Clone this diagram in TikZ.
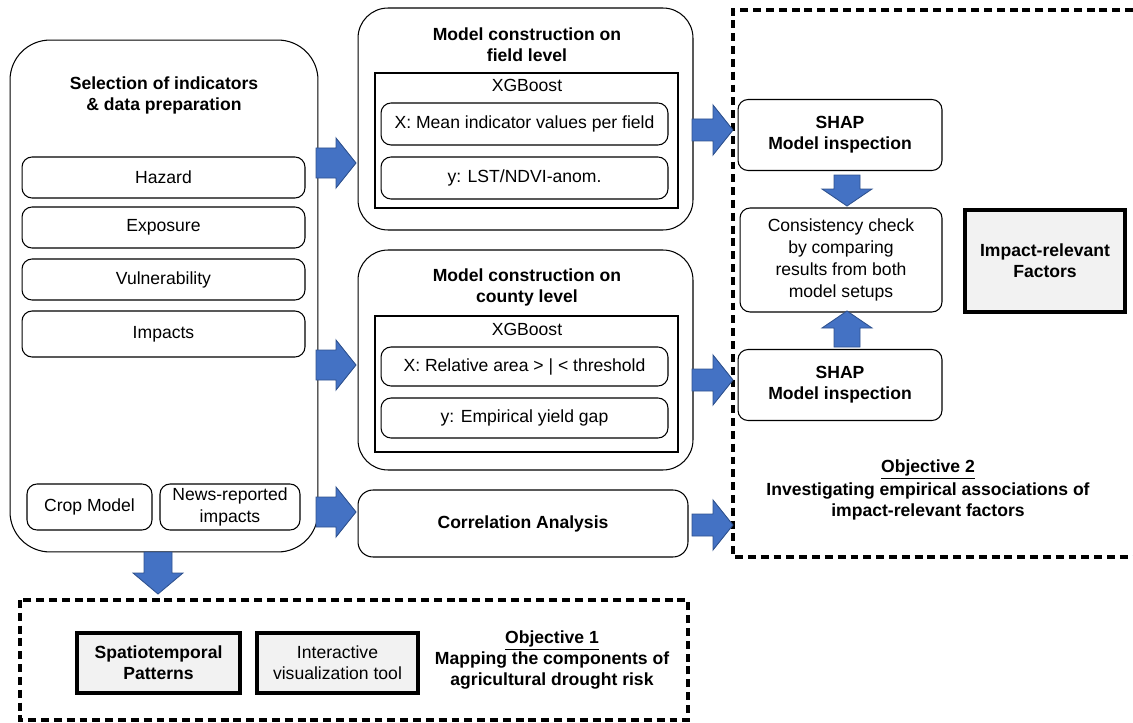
\documentclass[tikz,border=0pt]{standalone}
\usepackage{fontspec}
\setmainfont{Liberation Sans}
\usetikzlibrary{positioning}
\definecolor{arrowblue}{HTML}{4472C4}
\definecolor{arrowedge}{HTML}{2F528F}
\definecolor{boxgray}{HTML}{F2F2F2}
\tikzstyle{bigbox}=[draw,line width=0.6pt,rounded corners=0.8cm,inner sep=0pt]
\tikzstyle{midbox}=[draw,line width=0.6pt,rounded corners=0.6cm,inner sep=0pt]
\tikzstyle{smallbox}=[draw,line width=0.6pt,rounded corners=0.2cm,align=center,inner sep=1pt]
\tikzstyle{modelrect}=[draw,line width=1.5pt,inner sep=0pt]
\tikzstyle{resultbox}=[draw,line width=2.4pt,fill=boxgray,align=center,font=\bfseries]
\tikzstyle{title}=[align=center,font=\bfseries]
\tikzstyle{objective}=[draw,line width=1.8pt,dash pattern=on 4.5pt off 2.8pt]
\tikzstyle{blockarrow}=[fill=arrowblue,draw=arrowedge,line width=0.5pt,line join=miter]
% #1 start, #2 rotation, #3 length, #4 half body, #5 head length
\newcommand{\barrow}[5]{%
  \draw[blockarrow,shift={#1},rotate=#2] (0,-#4) -- (#3-#5,-#4) -- (#3-#5,-25)
    -- (#3,0) -- (#3-#5,25) -- (#3-#5,#4) -- (0,#4) -- cycle;}

\begin{document}
\begin{tikzpicture}[x=0.02cm,y=-0.02cm,font=\fontsize{10}{12.5}\selectfont]
\useasboundingbox (0,0) rectangle (1133,723);

%Selection of indicators
\node[bigbox,minimum width=6.16cm,minimum height=10.24cm] (sel) at (164,296) {};
\node[title] (seltitle) at (164,95) {Selection of indicators\\ \& data preparation};
\foreach \pos/\name/\h/\label in {{(163.5,177.5)/hazard/0.82/Hazard}, {(163.5,227.5)/exposure/0.82/Exposure},
    {(163.5,279.5)/vuln/0.82/Vulnerability}, {(163.5,334)/impacts/0.92/Impacts}}
  \node[smallbox,minimum width=5.66cm,minimum height=\h cm] (\name) at \pos {\label};
\node[smallbox,minimum width=2.5cm,minimum height=0.92cm] (crop) at (89.5,507) {Crop Model};
\node[smallbox,minimum width=2.8cm,minimum height=0.92cm] (news) at (230,507) {News-reported\\impacts};

%Model construction, field
\node[midbox,minimum width=6.7cm,minimum height=4.44cm] (field) at (525.5,119) {};
\node[title] (fieldtitle) at (527,45) {Model construction on\\field level};
\node[modelrect,minimum width=6.06cm,minimum height=2.7cm] (fieldxgb) at (526.5,140.5) {};
\node (fieldxgbl) at (527,85) {XGBoost};
\node[smallbox,minimum width=5.74cm,minimum height=0.84cm] (fieldx) at (524.5,124) {X: Mean indicator values per field};
\node[smallbox,minimum width=5.74cm,minimum height=0.84cm] (fieldy) at (524.5,178) {y: LST/NDVI-anom.};

%Model construction, county
\node[midbox,minimum width=6.7cm,minimum height=4.4cm] (county) at (525.5,360) {};
\node[title] (countytitle) at (527,287) {Model construction on\\county level};
\node[modelrect,minimum width=6.06cm,minimum height=2.72cm] (countyxgb) at (526.5,384) {};
\node (countyxgbl) at (527,329) {XGBoost};
\node[smallbox,minimum width=5.74cm,minimum height=0.78cm] (countyx) at (524.5,366.5) {X: Relative area > | < threshold};
\node[smallbox,minimum width=5.74cm,minimum height=0.8cm] (countyy) at (524.5,418) {y: Empirical yield gap};

%Correlation
\node[smallbox,rounded corners=0.3cm,minimum width=6.6cm,minimum height=1.34cm,font=\bfseries] (corr) at (523,523.5) {Correlation Analysis};

%Objective 2
\draw[objective] (1133,10) -- (733,10) -- (733,557) -- (1133,557);
\node[smallbox,minimum width=4.08cm,minimum height=1.42cm,font=\bfseries] (shapa) at (840,135) {SHAP\\Model inspection};
\node[smallbox,minimum width=4.04cm,minimum height=2.08cm] (consist) at (841,260) {Consistency check\\by comparing\\results from both\\model setups};
\node[smallbox,minimum width=4.08cm,minimum height=1.42cm,font=\bfseries] (shapb) at (840,385) {SHAP\\Model inspection};
\node[resultbox,minimum width=3.2cm,minimum height=2.04cm] (factors) at (1045,261) {Impact-relevant\\Factors};
\node[title] (obj2) at (928,490) {\underline{Objective 2}\\[1pt]Investigating empirical associations of\\impact-relevant factors};

%Objective 1
\draw[objective] (20,600) rectangle (688,720);
\node[resultbox,minimum width=3.26cm,minimum height=1.2cm] (spatio) at (158.5,663) {Spatiotemporal\\Patterns};
\node[resultbox,minimum width=3.22cm,minimum height=1.2cm,font=\normalfont] (tool) at (337.5,663) {Interactive\\visualization tool};
\node[title] (obj1) at (552,660) {\underline{Objective 1}\\Mapping the components of\\agricultural drought risk};

%arrows
\foreach \pos in {(316,163),(316,365),(316,512)}
  {\barrow{\pos}{0}{40}{15}{20}}
\foreach \pos in {(692,130),(692,380),(692,525)}
  {\barrow{\pos}{0}{41}{11}{20}}
\barrow{(847,175)}{-90}{31}{13}{17}
\barrow{(847,347)}{90}{36}{13}{17}
\barrow{(158,552)}{-90}{42}{14}{21}

\end{tikzpicture}
\end{document}
